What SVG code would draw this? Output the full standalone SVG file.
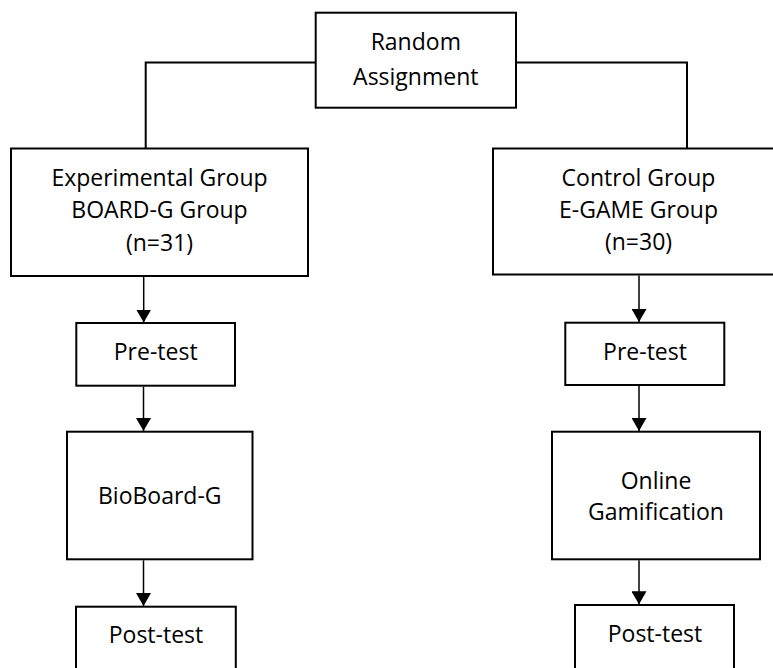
<svg xmlns="http://www.w3.org/2000/svg" width="773" height="668" viewBox="0 0 773 668">
  <style>
    .box { fill: #ffffff; stroke: #000000; stroke-width: 2; }
    .lbl { font-family: "Open Sans", "Liberation Sans", sans-serif; font-size: 23px; fill: #000000; text-anchor: middle; }
    .tree { fill: none; stroke: #000000; stroke-width: 2; }
    .arr { fill: none; stroke: #000000; stroke-width: 1.5; marker-end: url(#ah); }
  </style>
  <defs>
    <marker id="ah" viewBox="0 0 13 15" refX="13" refY="7.5" markerWidth="13" markerHeight="15" markerUnits="userSpaceOnUse" orient="auto">
      <path d="M0,0 L13,7.5 L0,15 z" fill="#000000"/>
    </marker>
  </defs>
  <rect x="0" y="0" width="773" height="668" fill="#ffffff"/>

  <g id="connectors">
    <path class="tree" d="M315.7,62.5 H145.7 V148.5"/>
    <path class="tree" d="M516,62.5 H687 V148.5"/>
    <line class="arr" x1="143.7" y1="277" x2="143.7" y2="322.5"/>
    <line class="arr" x1="143.5" y1="386.7" x2="143.5" y2="431"/>
    <line class="arr" x1="143.5" y1="560.3" x2="143.5" y2="606"/>
    <line class="arr" x1="639" y1="275.5" x2="639" y2="322"/>
    <line class="arr" x1="639" y1="386" x2="639" y2="431"/>
    <line class="arr" x1="639" y1="560.3" x2="639" y2="604.3"/>
  </g>

  <g id="random">
    <rect class="box" x="315.7" y="12.7" width="200.3" height="95"/>
    <text class="lbl" x="415.8" y="49.5">Random</text>
    <text class="lbl" x="415.8" y="85">Assignment</text>
  </g>

  <g id="experimental">
    <rect class="box" x="11" y="148.5" width="297" height="127.5"/>
    <text class="lbl" x="159.5" y="185.7">Experimental Group</text>
    <text class="lbl" x="159.5" y="218.3">BOARD-G Group</text>
    <text class="lbl" x="159.5" y="250.5">(n=31)</text>
  </g>

  <g id="control">
    <rect class="box" x="493" y="148.5" width="300" height="126"/>
    <text class="lbl" x="638.5" y="185.7">Control Group</text>
    <text class="lbl" x="638.5" y="217.9">E-GAME Group</text>
    <text class="lbl" x="638.5" y="250.3">(n=30)</text>
  </g>

  <g id="pretest-left">
    <rect class="box" x="76.3" y="323" width="158.7" height="62.7"/>
    <text class="lbl" x="155.7" y="360">Pre-test</text>
  </g>

  <g id="pretest-right">
    <rect class="box" x="565.3" y="322.7" width="159" height="62.3"/>
    <text class="lbl" x="645" y="360">Pre-test</text>
  </g>

  <g id="bioboard">
    <rect class="box" x="67" y="431.7" width="185.5" height="127.6"/>
    <text class="lbl" x="159.8" y="504">BioBoard-G</text>
  </g>

  <g id="online">
    <rect class="box" x="552" y="431.7" width="208" height="127.6"/>
    <text class="lbl" x="656" y="489.3">Online</text>
    <text class="lbl" x="656" y="520">Gamification</text>
  </g>

  <g id="posttest-left">
    <rect class="box" x="76" y="606.7" width="159.8" height="80"/>
    <text class="lbl" x="156" y="643">Post-test</text>
  </g>

  <g id="posttest-right">
    <rect class="box" x="575" y="605" width="159" height="80"/>
    <text class="lbl" x="655" y="641.7">Post-test</text>
  </g>
</svg>
